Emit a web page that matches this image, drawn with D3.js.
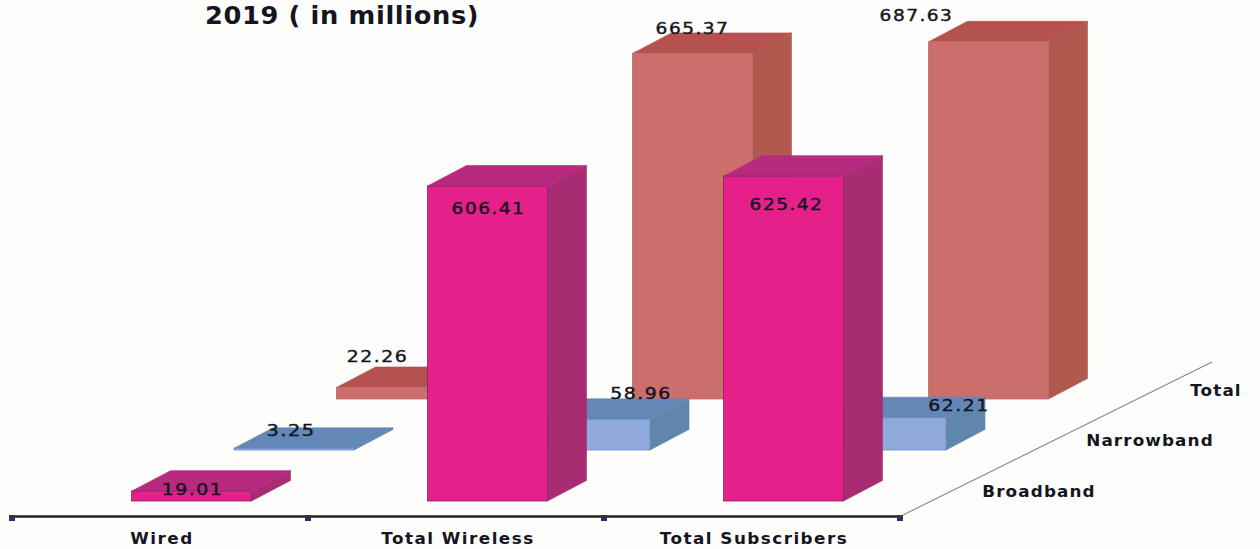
<!DOCTYPE html>
<html><head><meta charset="utf-8">
<script src="https://cdn.jsdelivr.net/npm/d3@7/dist/d3.min.js"></script>
<style>
html,body{margin:0;padding:0;background:#fdfdfc;overflow:hidden}
text{font-family:"DejaVu Sans",sans-serif;fill:#15151f}
</style></head><body>
<svg id="c" width="1260" height="549"></svg>
<script>
const titleText = "2019 ( in millions)";
const categories = ["Wired", "Total Wireless", "Total Subscribers"];
const seriesNames = ["Broadband", "Narrowband", "Total"];
const broadband = [19.01, 606.41, 625.42];
const narrowband = [3.25, 58.96, 62.21];
const total = [22.26, 665.37, 687.63];

const seriesValues = {Broadband: broadband, Narrowband: narrowband, Total: total};
const palette = {
  Broadband: {front:"#e6208a", top:"#b72a80", side:"#a82c72", stroke:"#7a2a6a"},
  Narrowband:{front:"#90a9dd", top:"#6388b8", side:"#5f87ac", stroke:"#6f8fc0"},
  Total:     {front:"#cb6e6c", top:"#b5524f", side:"#b0594f", stroke:"#c06a68"}
};
// label placement relative to the bar's front-top centre (dx, dy)
const labelNudge = {
  Broadband:[[1,4],[1,28],[3,34]],
  Narrowband:[[-3,-12],[51,-20],[73,-7]],
  Total:[[-19,-25],[0,-19],[-72,-21]]
};
const depthLabelPos = {Broadband:[1039,497],Narrowband:[1150,446],Total:[1216,396]};

const svg = d3.select("#c");
const x = d3.scaleBand().domain(categories).range([12,900]);
const y = d3.scaleLinear().domain([0,700]).range([0,363.6]);
const depthX = d3.scalePoint().domain(seriesNames).range([0,205]);
const depthY = d3.scalePoint().domain(seriesNames).range([0,-102]);
const barW = 120, barInset = 119.5, baseY = 501, skewX = 39, skewY = 20.5;
const poly = p => d3.line()(p) + "Z";
// widen the text to the reference's broad lettering
const widen = (sel, f) => sel.each(function(){
  const w = this.getComputedTextLength();
  d3.select(this).attr("textLength", w*f).attr("lengthAdjust","spacingAndGlyphs");
});

// floor axis
const axisG = svg.append("g");
axisG.append("line").attr("x1",12).attr("x2",903).attr("y1",516.5).attr("y2",516.5)
  .attr("stroke","#20202a").attr("stroke-width",2.5);
axisG.selectAll("rect.t").data([...categories.map(c=>x(c)), x.range()[1]]).join("rect")
  .attr("x",d=>d-3).attr("y",515).attr("width",6).attr("height",6).attr("fill","#2c3550");
axisG.append("line").attr("x1",903).attr("y1",515).attr("x2",1212).attr("y2",362)
  .attr("stroke","#8a8690").attr("stroke-width",1.1);

axisG.selectAll("text.c").data(categories).join("text").attr("class","c")
  .attr("x",d=>x(d)+150).attr("y",544).attr("text-anchor","middle")
  .attr("font-size",15).attr("font-weight",700).attr("letter-spacing",1.3).text(d=>d)
  .call(widen,1.12);
axisG.selectAll("text.s").data(seriesNames).join("text").attr("class","s")
  .attr("x",d=>depthLabelPos[d][0]).attr("y",d=>depthLabelPos[d][1]).attr("text-anchor","middle")
  .attr("font-size",15).attr("font-weight",700).attr("letter-spacing",1).text(d=>d)
  .call(widen,1.12);

// bars back to front
const labels = [];
[...seriesNames].reverse().forEach(s=>{
  const col = palette[s];
  const g = svg.append("g");
  seriesValues[s].forEach((v,i)=>{
    const c = categories[i];
    const x0 = x(c)+barInset+depthX(s), x1 = x0+barW;
    const b = baseY+depthY(s), t = b-y(v);
    g.append("path").attr("d",poly([[x1,b],[x1+skewX,b-skewY],[x1+skewX,t-skewY],[x1,t]]))
      .attr("fill",col.side).attr("stroke",col.side).attr("stroke-width",.6);
    g.append("path").attr("d",poly([[x0,t],[x0+skewX,t-skewY],[x1+skewX,t-skewY],[x1,t]]))
      .attr("fill",col.top).attr("stroke",col.top).attr("stroke-width",.6);
    g.append("rect").attr("x",x0).attr("y",t).attr("width",barW).attr("height",b-t)
      .attr("fill",col.front).attr("stroke",col.stroke).attr("stroke-width",.8);
    const n = labelNudge[s][i];
    labels.push({v, x:x0+barW/2+n[0], y:t+n[1]});
  });
});
svg.selectAll("text.v").data(labels).join("text").attr("class","v")
  .attr("x",d=>d.x).attr("y",d=>d.y).attr("text-anchor","middle")
  .attr("font-size",15).attr("letter-spacing",1.2)
  .attr("stroke","#15151f").attr("stroke-width",0.4)
  .text(d=>d3.format(".2f")(d.v))
  .each(function(d){
    const n = d3.format(".2f")(d.v).length;
    d3.select(this).attr("textLength", 12.3*n).attr("lengthAdjust","spacingAndGlyphs");
  });

svg.append("text").attr("x",205).attr("y",24).attr("font-size",24).attr("font-weight",700)
  .attr("letter-spacing",0.6).text(titleText).call(widen,1.07);
</script>
</body></html>
